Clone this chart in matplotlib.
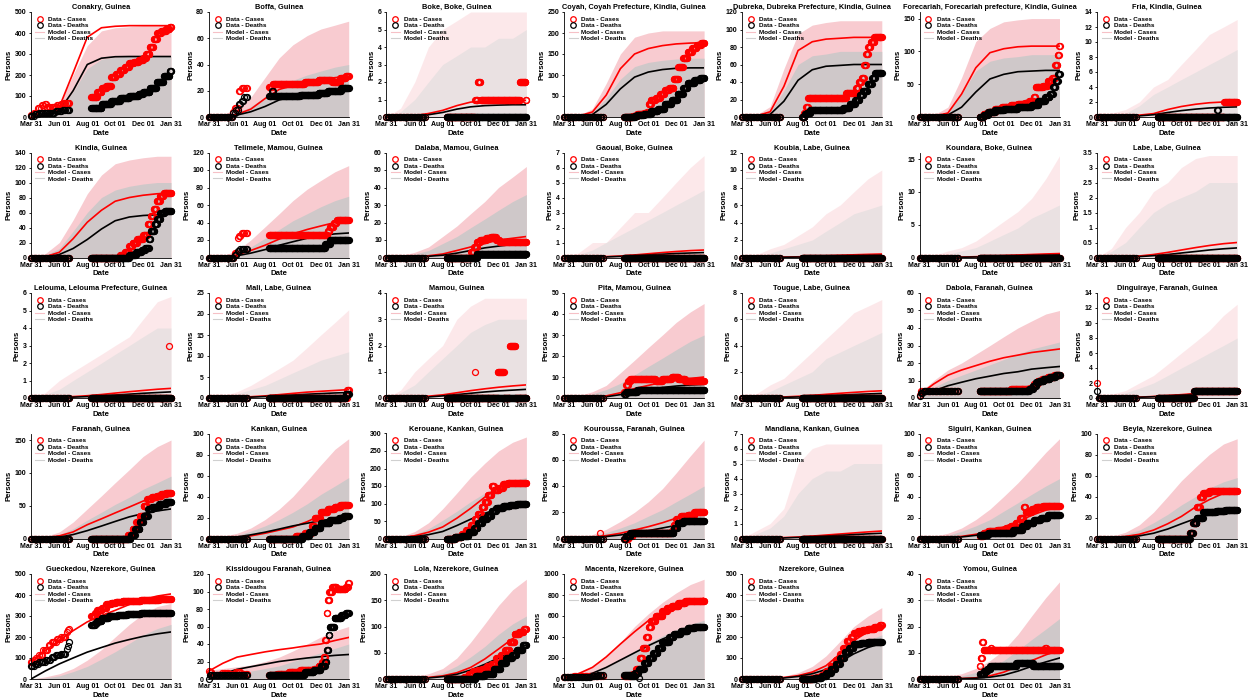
import matplotlib
matplotlib.use("Agg")
from matplotlib import pyplot as plt
from matplotlib.lines import Line2D
import numpy as np

plt.rcParams['font.family'] = ['Liberation Sans', 'DejaVu Sans']
plt.rcParams['font.weight'] = 'bold'

# days are counted from Mar 31 (2014)
month_days = [0, 31, 62, 92, 123, 154, 184, 215, 245, 276, 306]
tick_days = [0, 62, 123, 184, 245, 306]
tick_labels = ['Mar 31', 'Jun 01', 'Aug 01', 'Oct 01', 'Dec 01', 'Jan 31']
early_days = list(range(0, 85, 3))
late_days = list(range(132, 307))

titles = [
    'Conakry, Guinea', 'Boffa, Guinea', 'Boke, Boke, Guinea',
    'Coyah, Coyah Prefecture, Kindia, Guinea', 'Dubreka, Dubreka Prefecture, Kindia, Guinea',
    'Forecariah, Forecariah prefecture, Kindia, Guinea', 'Fria, Kindia, Guinea',
    'Kindia, Guinea', 'Telimele, Mamou, Guinea', 'Dalaba, Mamou, Guinea', 'Gaoual, Boke, Guinea',
    'Koubia, Labe, Guinea', 'Koundara, Boke, Guinea', 'Labe, Labe, Guinea',
    'Lelouma, Lelouma Prefecture, Guinea', 'Mali, Labe, Guinea', 'Mamou, Guinea',
    'Pita, Mamou, Guinea', 'Tougue, Labe, Guinea', 'Dabola, Faranah, Guinea',
    'Dinguiraye, Faranah, Guinea',
    'Faranah, Guinea', 'Kankan, Guinea', 'Kerouane, Kankan, Guinea', 'Kouroussa, Faranah, Guinea',
    'Mandiana, Kankan, Guinea', 'Siguiri, Kankan, Guinea', 'Beyla, Nzerekore, Guinea',
    'Gueckedou, Nzerekore, Guinea', 'Kissidougou Faranah, Guinea', 'Lola, Nzerekore, Guinea',
    'Macenta, Nzerekore, Guinea', 'Nzerekore, Guinea', 'Yomou, Guinea',
]

y_max = [500, 80, 6, 250, 120, 160, 14,
         140, 120, 60, 7, 12, 16, 3.5,
         6, 25, 4, 50, 8, 60, 14,
         160, 100, 300, 80, 7, 100, 100,
         500, 120, 200, 1000, 500, 40]
y_step = [100, 20, 1, 50, 20, 50, 2,
          20, 20, 10, 1, 2, 5, 0.5,
          1, 5, 1, 10, 2, 10, 2,
          50, 20, 50, 20, 1, 20, 20,
          100, 20, 50, 200, 100, 10]

# reported cumulative counts: (day, value) where the value changes
data_cases = [
    [(0, 10), (6, 20), (15, 45), (22, 55), (30, 60), (36, 50), (55, 55), (64, 60), (72, 65),
     (132, 95), (145, 120), (155, 140), (165, 150), (175, 190), (185, 205), (195, 225), (205, 240),
     (215, 255), (225, 262), (235, 270), (245, 280), (252, 300), (260, 335), (268, 370), (276, 400),
     (285, 410), (295, 420), (303, 430)],
    [(0, 0), (52, 4), (56, 7), (64, 20), (70, 22), (132, 23), (140, 25), (210, 27), (240, 28),
     (270, 27), (288, 30), (300, 31)],
    [(0, 0), (194, 1), (200, 2), (206, 1), (292, 2), (305, 1)],
    [(0, 0), (150, 3), (160, 8), (175, 10), (182, 12), (185, 30), (190, 40), (200, 45), (210, 55),
     (220, 65), (230, 70), (240, 90), (250, 120), (260, 140), (270, 155), (280, 165), (290, 172),
     (300, 177)],
    [(0, 0), (137, 5), (141, 12), (145, 22), (228, 28), (250, 33), (256, 40), (262, 45), (268, 60),
     (272, 72), (276, 80), (282, 86), (290, 91)],
    [(0, 0), (140, 5), (150, 8), (165, 12), (180, 15), (200, 18), (215, 20), (230, 22), (240, 25),
     (250, 30), (254, 45), (270, 48), (280, 55), (290, 60), (297, 80), (302, 95), (305, 108)],
    [(0, 0), (278, 2)],
    [(0, 0), (195, 3), (205, 8), (215, 15), (222, 20), (232, 25), (245, 30), (255, 45), (262, 55),
     (268, 65), (275, 75), (282, 82), (290, 86)],
    [(0, 0), (57, 5), (63, 22), (66, 25), (72, 28), (132, 26), (260, 30), (265, 35), (273, 40),
     (280, 43)],
    [(0, 0), (186, 3), (192, 6), (198, 9), (205, 10), (218, 11), (228, 12), (240, 10), (248, 9)],
    [(0, 0)],
    [(0, 0)],
    [(0, 0)],
    [(0, 0)],
    [(0, 0), (302, 3), (303, 0)],
    [(0, 0), (303, 2)],
    [(0, 0), (194, 1), (195, 0), (244, 1), (257, 0), (270, 2), (282, 0)],
    [(0, 0), (132, 3), (136, 6), (140, 8), (145, 9), (200, 8), (215, 9), (235, 10), (250, 9),
     (265, 8)],
    [(0, 0)],
    [(0, 2), (3, 4), (132, 4), (200, 5), (242, 6), (250, 8), (258, 10), (268, 11), (280, 12),
     (295, 13)],
    [(0, 2), (3, 0), (212, 1)],
    [(0, 0), (212, 5), (222, 15), (230, 25), (238, 35), (246, 50), (254, 60), (264, 63), (275, 65),
     (285, 68), (295, 70)],
    [(0, 0), (190, 2), (210, 5), (225, 12), (232, 20), (245, 25), (260, 28), (275, 30), (288, 32)],
    [(0, 0), (150, 5), (165, 12), (175, 25), (185, 40), (193, 55), (200, 70), (208, 90), (215, 105),
     (222, 125), (230, 150), (236, 140), (246, 145), (255, 155), (265, 160)],
    [(0, 0), (78, 4), (81, 0), (140, 2), (150, 4), (235, 6), (240, 10), (245, 15), (255, 17),
     (270, 18), (285, 20)],
    [(0, 0)],
    [(0, 0), (132, 2), (140, 5), (150, 7), (170, 8), (190, 10), (200, 12), (210, 15), (220, 20),
     (228, 30), (232, 25), (245, 28), (255, 30), (270, 31)],
    [(0, 0), (202, 5), (210, 15), (218, 30), (225, 40), (232, 43), (245, 45)],
    [(0, 80), (5, 90), (10, 100), (16, 112), (26, 136), (37, 160), (44, 176), (55, 192), (64, 200),
     (77, 224), (81, 235), (84, 240), (132, 300), (140, 315), (145, 330), (155, 340), (165, 355),
     (175, 360), (185, 365), (200, 370), (220, 372), (240, 375), (260, 378), (280, 380), (300, 382)],
    [(0, 9), (3, 8), (9, 5), (30, 7), (45, 6), (60, 8), (72, 6), (132, 5), (150, 6), (175, 8),
     (200, 10), (230, 12), (240, 15), (248, 20), (252, 25), (255, 45), (258, 75), (260, 90),
     (264, 100), (270, 105), (280, 103), (300, 105), (305, 110)],
    [(0, 0), (170, 3), (180, 10), (190, 15), (200, 18), (210, 20), (220, 25), (230, 28), (240, 40),
     (250, 45), (260, 55), (270, 70), (280, 85), (290, 90), (300, 95)],
    [(0, 20), (20, 25), (50, 30), (70, 25), (145, 40), (150, 50), (158, 100), (165, 200), (172, 300),
     (180, 400), (185, 500), (190, 550), (200, 600), (215, 650), (225, 680), (235, 700), (250, 720),
     (265, 740), (280, 745)],
    [(0, 0), (155, 5), (165, 10), (175, 20), (185, 40), (195, 60), (205, 90), (215, 120), (222, 150),
     (230, 180), (238, 200), (245, 220), (255, 230), (265, 235), (275, 240), (290, 250), (302, 255)],
    [(0, 0), (132, 5), (134, 8), (137, 14), (140, 11), (156, 12), (158, 11), (275, 12), (278, 11)],
]

data_deaths = [
    [(0, 5), (9, 15), (18, 20), (54, 30), (69, 35), (132, 45), (155, 60), (175, 75), (195, 90),
     (215, 100), (235, 110), (245, 120), (260, 140), (275, 165), (290, 195), (303, 220)],
    [(0, 0), (52, 3), (58, 5), (64, 10), (70, 12), (76, 15), (132, 16), (139, 20), (141, 16),
     (200, 17), (240, 18), (260, 20), (290, 22)],
    [(0, 0)],
    [(0, 0), (155, 3), (160, 5), (175, 8), (190, 15), (205, 20), (220, 30), (235, 40), (248, 55),
     (260, 70), (270, 80), (285, 88), (298, 92)],
    [(0, 0), (138, 3), (142, 5), (150, 8), (222, 10), (236, 15), (248, 20), (258, 25), (265, 30),
     (275, 38), (285, 45), (292, 50)],
    [(0, 0), (140, 3), (150, 8), (165, 10), (185, 12), (215, 15), (245, 18), (260, 25), (275, 30),
     (285, 35), (292, 45), (298, 55), (303, 65)],
    [(0, 0), (262, 1), (264, 0)],
    [(0, 0), (215, 3), (230, 8), (242, 10), (250, 13), (258, 25), (262, 35), (270, 45), (276, 52),
     (283, 60), (292, 62)],
    [(0, 0), (57, 3), (63, 8), (69, 10), (132, 11), (255, 15), (266, 20)],
    [(0, 0), (198, 2)],
    [(0, 0)],
    [(0, 0)],
    [(0, 0)],
    [(0, 0)],
    [(0, 0)],
    [(0, 0), (300, 1)],
    [(0, 0)],
    [(0, 0), (132, 2), (136, 3), (160, 4)],
    [(0, 0)],
    [(0, 1), (3, 3), (9, 4), (132, 4), (240, 5), (248, 7), (255, 9), (262, 10), (272, 11),
     (285, 12), (298, 13)],
    [(0, 1), (3, 0), (212, 1)],
    [(0, 0), (218, 5), (228, 15), (238, 25), (246, 35), (256, 45), (265, 48), (280, 52), (295, 55)],
    [(0, 0), (205, 2), (220, 6), (232, 10), (245, 15), (265, 18), (285, 20), (295, 21)],
    [(0, 0), (150, 3), (165, 8), (180, 18), (192, 30), (200, 45), (210, 55), (220, 65), (230, 80),
     (240, 88), (255, 93), (270, 97), (285, 99)],
    [(0, 0), (135, 2), (145, 4), (240, 8), (248, 12), (260, 13)],
    [(0, 0)],
    [(0, 0), (132, 3), (150, 5), (205, 8), (225, 12), (235, 15), (250, 18), (265, 20), (280, 22)],
    [(0, 0), (203, 5), (210, 15), (218, 20), (232, 25), (260, 26), (280, 27)],
    [(0, 60), (9, 70), (18, 80), (33, 91), (44, 104), (53, 112), (66, 120), (77, 144), (81, 155),
     (84, 176), (132, 255), (140, 265), (145, 275), (155, 290), (170, 300), (190, 305), (210, 310),
     (240, 312), (270, 315)],
    [(0, 0), (3, 5), (132, 5), (210, 8), (230, 10), (245, 15), (255, 20), (258, 33), (262, 50),
     (265, 60), (275, 70), (290, 73), (300, 75)],
    [(0, 0), (195, 5), (215, 10), (235, 20), (250, 30), (262, 40), (275, 45), (285, 55), (298, 65)],
    [(0, 15), (30, 20), (60, 30), (75, 35), (145, 30), (155, 60), (163, 10), (164, 100), (175, 150),
     (185, 200), (195, 250), (205, 300), (215, 350), (230, 400), (240, 430), (255, 460), (270, 490),
     (285, 500)],
    [(0, 0), (160, 5), (175, 15), (185, 30), (195, 50), (205, 70), (215, 100), (225, 130),
     (235, 150), (245, 165), (260, 170), (275, 175), (290, 178)],
    [(0, 0), (132, 2), (142, 3), (148, 4), (155, 5), (212, 6), (248, 5)],
]

# model mean at month_days
model_cases = [
    [0, 8, 48, 210, 380, 425, 432, 435, 435, 435, 435],
    [0, 0.5, 2, 6, 14, 21, 24, 26, 28, 30, 31],
    [0, 0.02, 0.08, 0.2, 0.38, 0.65, 0.85, 0.92, 0.95, 0.95, 0.95],
    [0, 2, 12, 52, 115, 150, 163, 170, 174, 176, 177],
    [0, 1, 6, 35, 76, 86, 89, 90, 91, 91, 91],
    [0, 1, 6, 35, 75, 98, 104, 107, 108, 108, 108],
    [0, 0.02, 0.1, 0.25, 0.45, 1.0, 1.4, 1.7, 1.9, 2.0, 2.0],
    [0, 1, 7, 25, 47, 63, 75, 80, 83, 85, 86],
    [0, 0.5, 3, 8, 14, 21, 27, 32, 36, 40, 43],
    [0, 0.1, 0.5, 1, 2, 4, 6, 8, 10, 11, 12],
    [0, 0.01, 0.03, 0.06, 0.1, 0.17, 0.25, 0.33, 0.4, 0.46, 0.5],
    [0, 0.01, 0.02, 0.05, 0.08, 0.13, 0.19, 0.25, 0.31, 0.36, 0.4],
    [0, 0.01, 0.03, 0.07, 0.12, 0.2, 0.29, 0.38, 0.46, 0.54, 0.6],
    [0, 0.005, 0.02, 0.05, 0.1, 0.17, 0.25, 0.33, 0.4, 0.46, 0.5],
    [0, 0.01, 0.04, 0.08, 0.13, 0.2, 0.28, 0.36, 0.43, 0.5, 0.55],
    [0, 0.05, 0.15, 0.3, 0.5, 0.8, 1.1, 1.4, 1.6, 1.8, 2.0],
    [0, 0.01, 0.03, 0.07, 0.12, 0.2, 0.28, 0.35, 0.41, 0.46, 0.5],
    [0, 0.05, 0.3, 1, 2.5, 4.5, 6, 7.5, 8.5, 9.3, 10],
    [0, 0.01, 0.04, 0.08, 0.13, 0.2, 0.28, 0.36, 0.43, 0.5, 0.55],
    [2, 8, 13, 16, 18.5, 21, 23, 24.5, 26, 27, 28],
    [0, 0.02, 0.06, 0.12, 0.2, 0.32, 0.45, 0.6, 0.75, 0.9, 1.05],
    [0, 1, 4, 10, 21, 30, 39, 48, 57, 64, 69],
    [0, 0.3, 1, 2.5, 5, 8, 11, 16, 22, 27, 30],
    [0, 2, 8, 18, 33, 58, 86, 118, 148, 158, 162],
    [0, 0.3, 1, 2.2, 4, 6.5, 9, 12, 15.5, 18, 20],
    [0, 0.01, 0.03, 0.06, 0.1, 0.16, 0.23, 0.3, 0.37, 0.44, 0.5],
    [0, 0.3, 1, 2, 4, 7, 11, 16, 22, 27, 30],
    [0, 0.5, 2, 4, 8, 14, 21, 30, 37, 43, 46],
    [80, 135, 184, 230, 272, 302, 327, 355, 378, 395, 405],
    [9, 18, 25, 28, 31, 33.5, 35.5, 38, 40, 44, 47.5],
    [0, 0.3, 1, 3, 6, 12, 22, 38, 57, 77, 95],
    [20, 50, 111, 210, 333, 450, 555, 630, 683, 735, 770],
    [0, 1, 3, 7, 16, 33, 63, 120, 183, 225, 254],
    [0, 0.02, 0.08, 0.2, 0.45, 1.2, 2.6, 4.8, 7, 9.2, 11],
]

model_deaths = [
    [0, 5, 30, 125, 250, 280, 287, 288, 288, 288, 288],
    [0, 0.3, 1.5, 4, 8, 13, 16, 18, 19, 20, 21],
    [0, 0.01, 0.05, 0.13, 0.26, 0.45, 0.58, 0.65, 0.68, 0.7, 0.7],
    [0, 1, 6, 30, 67, 95, 107, 113, 116, 117, 117],
    [0, 0.5, 3, 18, 42, 54, 58, 59, 60, 60, 60],
    [0, 0.5, 3, 15, 38, 58, 65, 69, 70, 71, 71],
    [0, 0.01, 0.05, 0.15, 0.3, 0.6, 0.85, 1.05, 1.2, 1.3, 1.35],
    [0, 0.5, 4, 12, 24, 38, 49, 54, 56, 57, 58],
    [0, 0.3, 2, 5, 9, 14, 18, 22, 25, 27, 28],
    [0, 0.05, 0.3, 0.7, 1.3, 2.5, 4, 5.5, 6.5, 7.5, 8],
    [0, 0.005, 0.02, 0.04, 0.07, 0.12, 0.17, 0.22, 0.27, 0.3, 0.33],
    [0, 0.005, 0.015, 0.03, 0.05, 0.08, 0.12, 0.16, 0.19, 0.22, 0.25],
    [0, 0.005, 0.02, 0.04, 0.08, 0.13, 0.19, 0.25, 0.3, 0.35, 0.4],
    [0, 0.003, 0.012, 0.03, 0.06, 0.1, 0.15, 0.2, 0.25, 0.29, 0.32],
    [0, 0.005, 0.02, 0.05, 0.08, 0.12, 0.17, 0.22, 0.27, 0.31, 0.35],
    [0, 0.03, 0.1, 0.2, 0.35, 0.5, 0.7, 0.9, 1.05, 1.2, 1.3],
    [0, 0.005, 0.02, 0.04, 0.08, 0.13, 0.18, 0.23, 0.27, 0.3, 0.33],
    [0, 0.03, 0.2, 0.6, 1.6, 3, 4, 5, 5.7, 6.2, 6.5],
    [0, 0.005, 0.02, 0.05, 0.08, 0.12, 0.17, 0.22, 0.27, 0.31, 0.35],
    [1, 4, 7, 9, 11, 12.5, 14, 15, 16.5, 17.3, 18],
    [0, 0.015, 0.05, 0.1, 0.17, 0.27, 0.38, 0.5, 0.62, 0.72, 0.8],
    [0, 0.5, 2, 6, 12, 19, 26, 33, 38, 42, 45],
    [0, 0.3, 1.5, 3.5, 6, 9, 12, 14.5, 17, 19, 21],
    [0, 1, 5, 11, 20, 37, 55, 72, 85, 93, 97],
    [0, 0.2, 0.7, 1.5, 2.7, 4.2, 6, 8, 10, 11.8, 13],
    [0, 0.005, 0.02, 0.04, 0.07, 0.11, 0.16, 0.21, 0.26, 0.31, 0.35],
    [0, 0.2, 0.7, 1.5, 3, 5, 8, 11.5, 15, 19, 22],
    [0, 0.3, 1, 2.5, 5, 9, 14, 19, 23, 25.5, 27],
    [0, 38, 72, 100, 128, 150, 171, 188, 203, 215, 224],
    [0, 6, 11, 14, 17, 20, 22, 24, 25.5, 27, 28],
    [0, 0.2, 0.7, 2, 4.5, 9, 17, 28, 40, 53, 65],
    [10, 25, 55, 110, 180, 250, 317, 380, 435, 470, 490],
    [0, 0.5, 2, 5, 12, 25, 45, 82, 120, 150, 170],
    [0, 0.01, 0.05, 0.15, 0.3, 0.7, 1.5, 3, 4.8, 6.5, 8],
]

# upper edge of the simulated trajectories at month_days
band_cases = [
    [0, 10, 60, 200, 340, 410, 425, 430, 435, 435, 440],
    [0, 2, 6, 15, 30, 45, 55, 62, 67, 70, 73],
    [0, 0.5, 2, 4, 5, 5.5, 6, 6, 6, 6, 6],
    [0, 3, 20, 80, 150, 190, 200, 205, 205, 205, 205],
    [0, 2, 12, 55, 95, 105, 108, 110, 110, 110, 110],
    [0, 3, 15, 60, 115, 135, 145, 148, 150, 150, 150],
    [0, 0.5, 1, 2, 4, 5, 7, 9, 11, 12, 13],
    [0, 5, 20, 50, 85, 110, 125, 130, 133, 135, 135],
    [0, 2, 8, 20, 35, 50, 65, 78, 88, 98, 105],
    [0, 1, 3, 6, 12, 18, 25, 32, 40, 46, 52],
    [0, 0.3, 1, 1, 2, 3, 3, 4, 5, 6, 6.8],
    [0, 0.3, 1, 1.5, 2.5, 3.5, 5, 6, 7.5, 9, 10],
    [0, 0.3, 1, 1.5, 2.5, 4, 5.5, 7, 9, 12, 15.5],
    [0, 0.3, 1, 1.5, 2.2, 2.5, 3, 3.3, 3.4, 3.4, 3.4],
    [0, 0.3, 1, 1.5, 2, 2.5, 3, 3.5, 4.5, 5.5, 5.8],
    [0, 0.5, 1.5, 3, 5, 7, 9, 12, 15, 18, 21],
    [0, 0.3, 1, 1.5, 2, 3, 3.5, 3.8, 3.8, 3.8, 3.8],
    [0, 1, 3, 6, 12, 18, 24, 30, 36, 41, 45],
    [0, 0.3, 1, 1.5, 2.5, 3.5, 4.5, 5.5, 6.5, 7, 7.5],
    [3, 10, 16, 20, 25, 30, 35, 40, 44, 48, 50],
    [0, 0.5, 1, 2, 3, 4.5, 6, 7.5, 9, 11, 12.5],
    [0, 3, 10, 25, 45, 65, 85, 105, 125, 140, 150],
    [0, 2, 5, 10, 18, 28, 40, 55, 70, 85, 95],
    [0, 5, 20, 45, 85, 130, 175, 215, 250, 275, 290],
    [0, 1, 3, 7, 13, 20, 28, 38, 50, 63, 75],
    [0, 0.5, 1, 2, 5, 6, 6.3, 6.3, 6.3, 6.3, 6.3],
    [0, 2, 5, 10, 18, 28, 40, 53, 67, 82, 95],
    [0, 2, 6, 13, 25, 40, 55, 68, 80, 90, 95],
    [0, 10, 25, 50, 90, 140, 200, 260, 310, 345, 360],
    [10, 12, 14, 16, 20, 25, 32, 40, 48, 55, 60],
    [0, 1, 4, 10, 20, 40, 70, 105, 140, 170, 190],
    [20, 60, 120, 220, 350, 500, 620, 730, 820, 900, 950],
    [0, 2, 6, 14, 30, 60, 110, 180, 250, 300, 340],
    [0, 0.3, 1, 2, 4, 7, 11, 17, 24, 31, 37],
]

band_deaths = [
    [0, 5, 30, 120, 230, 275, 285, 290, 290, 290, 290],
    [0, 1, 3, 8, 15, 22, 28, 32, 35, 38, 40],
    [0, 0.3, 1, 2, 3, 3.5, 4, 4, 4.5, 4.5, 5],
    [0, 2, 10, 45, 90, 120, 130, 135, 138, 140, 140],
    [0, 1, 6, 30, 60, 70, 72, 75, 75, 75, 75],
    [0, 2, 8, 35, 70, 85, 90, 92, 95, 95, 95],
    [0, 0.3, 0.5, 1.5, 3, 4, 5, 6, 7, 8, 9],
    [0, 3, 12, 35, 60, 80, 90, 95, 98, 100, 100],
    [0, 1, 5, 12, 22, 32, 42, 50, 58, 65, 70],
    [0, 0.5, 2, 4, 8, 12, 17, 22, 27, 32, 36],
    [0, 0.2, 0.5, 1, 1.5, 2, 2.5, 3, 3.5, 4, 4.5],
    [0, 0.2, 0.5, 1, 1.5, 2, 3, 4, 5, 5.5, 6],
    [0, 0.2, 0.5, 1, 1.5, 2.5, 3.5, 4.5, 6, 7, 8],
    [0, 0.2, 0.5, 1, 1.5, 1.8, 2, 2.2, 2.5, 2.5, 2.5],
    [0, 0.2, 0.5, 1, 1.5, 2, 2.5, 3, 3.5, 4, 4],
    [0, 0.3, 1, 2, 3, 4.5, 6, 7.5, 9, 10, 11],
    [0, 0.2, 0.5, 1, 1.5, 2, 2.5, 2.8, 3, 3, 3],
    [0, 0.5, 2, 4, 7, 11, 15, 19, 23, 27, 30],
    [0, 0.2, 0.5, 1, 1.5, 2, 3, 3.5, 4, 4.5, 5],
    [2, 6, 10, 13, 16, 19, 22, 25, 28, 30, 32],
    [0, 0.3, 0.7, 1.3, 2, 3, 4, 5, 6, 7, 8],
    [0, 2, 6, 15, 28, 40, 52, 63, 75, 85, 95],
    [0, 1, 3, 7, 12, 18, 25, 33, 42, 50, 58],
    [0, 3, 12, 28, 52, 78, 105, 130, 150, 165, 175],
    [0, 0.7, 2, 4.5, 8, 12, 17, 22, 28, 34, 40],
    [0, 0.3, 0.7, 1.5, 3, 4, 4.5, 4.5, 5, 5, 5],
    [0, 1, 3, 7, 12, 18, 26, 34, 42, 50, 57],
    [0, 1, 4, 8, 15, 23, 32, 40, 48, 54, 58],
    [0, 5, 15, 35, 60, 95, 130, 170, 210, 240, 260],
    [0, 4, 7, 9, 12, 15, 20, 25, 30, 35, 40],
    [0, 0.5, 2, 6, 12, 25, 42, 62, 85, 105, 120],
    [10, 30, 60, 110, 180, 260, 340, 410, 470, 520, 560],
    [0, 1, 4, 9, 20, 40, 70, 110, 150, 185, 210],
    [0, 0.2, 0.6, 1.2, 2.5, 4.5, 7, 11, 15, 19, 23],
]

# panels where only a handful of trajectories leave zero (drawn lighter)
thin_band = [False, False, True, False, False, False, True,
             False, False, False, True, True, True, True,
             True, True, True, False, True, False, True,
             False, False, False, False, True, False, False,
             False, False, False, False, False, False]


def step_values(knots, days):
    kd = [k[0] for k in knots]
    kv = [k[1] for k in knots]
    out = []
    for d in days:
        idx = np.searchsorted(kd, d, side='right') - 1
        out.append(kv[idx] if idx >= 0 else 0)
    return out


fig = plt.figure(figsize=(12.51, 6.98), dpi=100)
W, H = 1251.0, 698.0
report_days = early_days + late_days

legend_handles = [
    Line2D([], [], ls='none', marker='o', mfc='none', mec='red', ms=4, mew=0.9),
    Line2D([], [], ls='none', marker='o', mfc='none', mec='black', ms=4, mew=0.9),
    Line2D([], [], color='#f6c0c6', lw=0.8),
    Line2D([], [], color='#d0d0d0', lw=0.8),
]
legend_labels = ['Data - Cases', 'Data - Deaths', 'Model - Cases', 'Model - Deaths']

for i, title in enumerate(titles):
    row, col = divmod(i, 7)
    left = 31 + col * 177.7
    top = 12 + row * 140.5
    ax = fig.add_axes([left / W, 1 - (top + 105) / H, 140 / W, 105 / H])

    if thin_band[i]:
        pink, grey, a = '#fbd6da', '#dcdcdc', 0.55
    else:
        pink, grey, a = '#f7c2c8', '#c8c8c8', 0.85
    ax.fill_between(month_days, 0, band_cases[i], color=pink, alpha=a, lw=0)
    ax.fill_between(month_days, 0, band_deaths[i], color=grey, alpha=a, lw=0)

    ax.plot(month_days, model_cases[i], color='red', lw=1.2)
    ax.plot(month_days, model_deaths[i], color='black', lw=1.2)

    ax.plot(report_days, step_values(data_cases[i], report_days), ls='none', marker='o',
            mfc='none', mec='red', ms=4.3, mew=0.9, clip_on=False)
    ax.plot(report_days, step_values(data_deaths[i], report_days), ls='none', marker='o',
            mfc='none', mec='black', ms=4.3, mew=0.9, clip_on=False)

    ax.set_xlim(0, 306)
    ax.set_ylim(0, y_max[i])
    ax.set_xticks(tick_days)
    ax.set_xticklabels(tick_labels)
    ax.set_yticks(np.arange(0, y_max[i] + y_step[i] / 2, y_step[i]))
    ax.yaxis.set_major_formatter(matplotlib.ticker.FormatStrFormatter('%g'))
    ax.tick_params(labelsize=5, length=1.8, width=0.6, direction='out', pad=1.5)
    ax.tick_params(axis='x', length=0, pad=3)
    for s in ['top', 'right']:
        ax.spines[s].set_visible(False)
    for s in ['left', 'bottom']:
        ax.spines[s].set_linewidth(0.6)
    ax.set_title(title, fontsize=5.3, fontweight='bold', pad=2)
    ax.set_xlabel('Date', fontsize=5.6, fontweight='bold', labelpad=1)
    ax.set_ylabel('Persons', fontsize=5.6, fontweight='bold', labelpad=1.5)
    ax.legend(legend_handles, legend_labels, loc='upper left', frameon=False, fontsize=4.6,
              handlelength=1.4, handletextpad=0.6, labelspacing=0.15, borderaxespad=0.5,
              borderpad=0.2)

fig.savefig('out.png', dpi=100)
